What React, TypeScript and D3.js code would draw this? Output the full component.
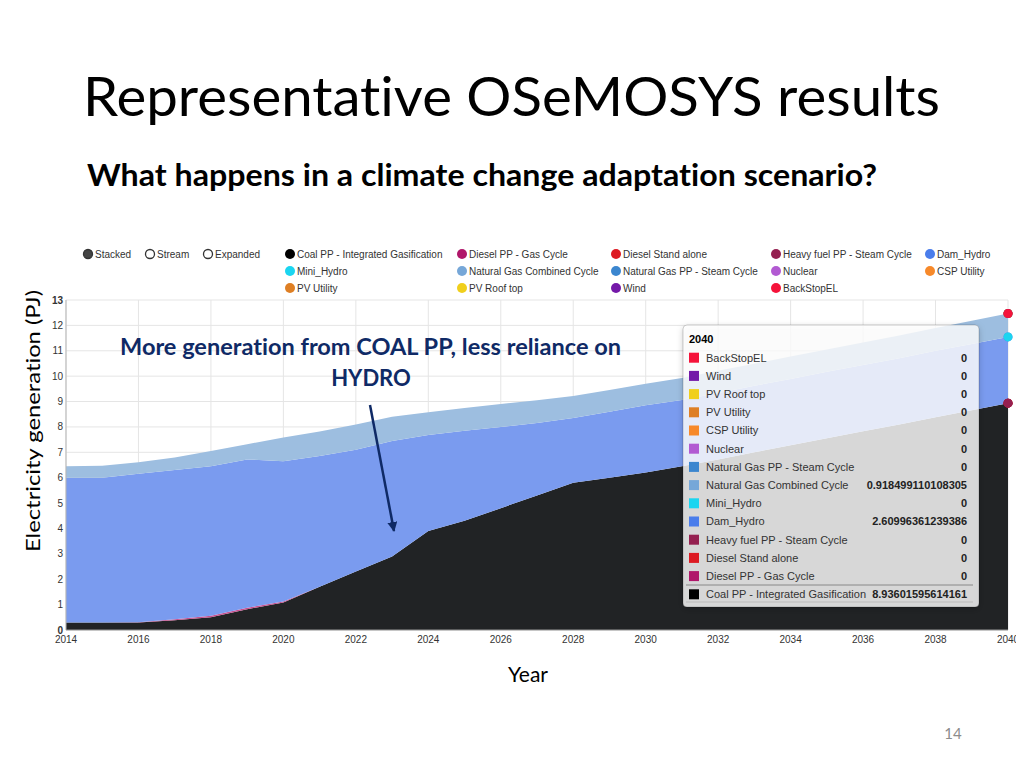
import React, { useEffect, useRef } from 'react';
import * as D3 from 'd3';

const years = [2014, 2015, 2016, 2017, 2018, 2019, 2020, 2021, 2022, 2023, 2024, 2025, 2026, 2027,
    2028, 2029, 2030, 2031, 2032, 2033, 2034, 2035, 2036, 2037, 2038, 2039, 2040];

const coal = [0.3, 0.3, 0.3, 0.38, 0.5, 0.82, 1.08, 1.7, 2.3, 2.9, 3.9, 4.3, 4.8, 5.3,
    5.8, 6.0, 6.2, 6.45, 6.72, 7.0, 7.28, 7.55, 7.83, 8.1, 8.38, 8.66, 8.93601595614161];
const dieselGas = [0, 0, 0.01, 0.04, 0.06, 0.06, 0.04, 0, 0, 0, 0, 0, 0, 0,
    0, 0, 0, 0, 0, 0, 0, 0, 0, 0, 0, 0, 0];
const damHydro = [5.7, 5.7, 5.85, 5.88, 5.89, 5.84, 5.53, 5.15, 4.8, 4.55, 3.78, 3.55, 3.2, 2.85,
    2.55, 2.6, 2.65, 2.61, 2.62, 2.62, 2.61, 2.62, 2.61, 2.61, 2.62, 2.61, 2.60996361239386];
const ngcc = [0.45, 0.47, 0.45, 0.5, 0.6, 0.6, 0.93, 0.97, 1.0, 0.95, 0.9, 0.9, 0.9, 0.9,
    0.87, 0.85, 0.85, 0.87, 0.87, 0.87, 0.88, 0.88, 0.89, 0.89, 0.9, 0.91, 0.918499110108305];
const zeroSeries = [0, 0, 0, 0, 0, 0, 0, 0, 0, 0, 0, 0, 0, 0,
    0, 0, 0, 0, 0, 0, 0, 0, 0, 0, 0, 0, 0];

// stack order, bottom to top
const seriesNames = [
    'Coal PP - Integrated Gasification', 'Diesel PP - Gas Cycle', 'Diesel Stand alone',
    'Heavy fuel PP - Steam Cycle', 'Dam_Hydro', 'Mini_Hydro', 'Natural Gas Combined Cycle',
    'Natural Gas PP - Steam Cycle', 'Nuclear', 'CSP Utility', 'PV Utility', 'PV Roof top',
    'Wind', 'BackStopEL',
];
const seriesValues = [
    coal, dieselGas, zeroSeries, zeroSeries, damHydro, zeroSeries, ngcc,
    zeroSeries, zeroSeries, zeroSeries, zeroSeries, zeroSeries, zeroSeries, zeroSeries,
];
const seriesColors = [
    '#000000', '#b0176a', '#dd1a22', '#952050', '#4a7deb', '#1ad5f0', '#76a7d8',
    '#3b86cf', '#b25ad2', '#f7892a', '#de7f24', '#f0cf1c', '#7419a8', '#f5133a',
];
const areaColors = [
    '#212325', '#c8508e', '#e0474d', '#a84a72', '#7a9bef', '#50ddf2', '#9dbee0',
    '#6ca2db', '#c583dd', '#f9a55f', '#e69f5b', '#f4db55', '#9552be', '#f84f6b',
];
const yTicks = [0, 1, 2, 3, 4, 5, 6, 7, 8, 9, 10, 11, 12, 13];
const xTicks = [2014, 2016, 2018, 2020, 2022, 2024, 2026, 2028, 2030, 2032, 2034, 2036, 2038, 2040];
const controls = ['Stacked', 'Stream', 'Expanded'];

const plot = { left: 66, right: 1008, top: 300, bottom: 630 };
const uiFont = '"Liberation Sans", Arial, sans-serif';
const slideFont = 'Lato, "Open Sans", sans-serif';

const App = () => {
    const container = useRef(null);

    useEffect(() => {
        if (!container.current) return;
        D3.select(container.current).selectAll('*').remove();

        const svg = D3.select(container.current)
            .append('svg')
            .attr('width', 1024)
            .attr('height', 768)
            .style('display', 'block')
            .style('background', '#fff')
            .style('font-variant-ligatures', 'none')
            .style('font-feature-settings', '"liga" 0, "clig" 0');

        const defs = svg.append('defs');
        defs.append('clipPath').attr('id', 'chartClip')
            .append('rect').attr('x', 0).attr('y', 0).attr('width', 1016).attr('height', 768);
        defs.append('filter').attr('id', 'tipShadow').attr('x', -0.1).attr('y', -0.1).attr('width', 1.2).attr('height', 1.2)
            .append('feDropShadow').attr('dx', 0).attr('dy', 2).attr('stdDeviation', 3).attr('flood-opacity', 0.25);
        const marker = defs.append('marker').attr('id', 'arrowHead')
            .attr('viewBox', '0 0 10 10').attr('refX', 9).attr('refY', 5)
            .attr('markerWidth', 4).attr('markerHeight', 4).attr('orient', 'auto');
        marker.append('path').attr('d', 'M0,0 L10,5 L0,10 z').attr('fill', '#0f2a66');

        // slide text
        svg.append('text')
            .attr('x', 83).attr('y', 116)
            .attr('font-family', slideFont).attr('font-size', 55).attr('fill', '#000')
            .attr('textLength', 857).attr('lengthAdjust', 'spacingAndGlyphs')
            .text('Representative OSeMOSYS results');
        svg.append('text')
            .attr('x', 87).attr('y', 186)
            .attr('font-family', slideFont).attr('font-size', 30).attr('font-weight', 'bold').attr('fill', '#000')
            .attr('textLength', 790).attr('lengthAdjust', 'spacingAndGlyphs')
            .text('What happens in a climate change adaptation scenario?');

        const ctr = svg.append('g').attr('clip-path', 'url(#chartClip)');

        const xScale = D3.scaleLinear().domain([2014, 2040]).range([plot.left, plot.right]);
        const yScale = D3.scaleLinear().domain([0, 13]).range([plot.bottom, plot.top]);

        // grid
        ctr.append('g').selectAll('line').data(yTicks).join('line')
            .attr('x1', plot.left).attr('x2', plot.right)
            .attr('y1', d => yScale(d)).attr('y2', d => yScale(d))
            .attr('stroke', '#e5e5e5').attr('stroke-width', 1);
        ctr.append('g').selectAll('line').data(xTicks).join('line')
            .attr('x1', d => xScale(d)).attr('x2', d => xScale(d))
            .attr('y1', plot.top).attr('y2', plot.bottom)
            .attr('stroke', '#e5e5e5').attr('stroke-width', 1);

        // stacked areas
        const table = years.map((yr, i) => {
            const row: any = { year: yr };
            seriesNames.forEach((name, s) => { row[name] = seriesValues[s][i]; });
            return row;
        });
        const stacked = D3.stack().keys(seriesNames)(table);
        const area = D3.area<any>()
            .x(d => xScale(d.data.year))
            .y0(d => yScale(d[0]))
            .y1(d => yScale(d[1]));
        ctr.append('g').selectAll('path').data(stacked).join('path')
            .attr('d', d => area(d as any))
            .attr('fill', (d, i) => areaColors[i]);

        // axes
        const yAxisG = ctr.append('g').attr('font-family', uiFont).attr('font-size', 10).attr('fill', '#333');
        yAxisG.selectAll('text').data(yTicks).join('text')
            .attr('x', plot.left - 3).attr('y', d => yScale(d)).attr('dy', '0.35em')
            .attr('text-anchor', 'end')
            .attr('font-weight', d => (d === 0 || d === 13 ? 'bold' : 'normal'))
            .text(d => d);
        ctr.append('line').attr('x1', plot.left).attr('x2', plot.left).attr('y1', plot.top).attr('y2', plot.bottom)
            .attr('stroke', '#b5b5b5');
        ctr.append('line').attr('x1', plot.left).attr('x2', plot.right).attr('y1', plot.bottom).attr('y2', plot.bottom)
            .attr('stroke', '#999');
        const xAxisG = ctr.append('g').attr('font-family', uiFont).attr('font-size', 10).attr('fill', '#333');
        xAxisG.selectAll('text').data(xTicks).join('text')
            .attr('x', d => xScale(d)).attr('y', plot.bottom + 13)
            .attr('text-anchor', 'middle')
            .text(d => d);

        // hover points at last year
        const last = years.length - 1;
        ctr.append('g').selectAll('circle').data(stacked).join('circle')
            .attr('cx', xScale(years[last]))
            .attr('cy', d => yScale(d[last][1]))
            .attr('r', 4.5)
            .attr('fill', (d, i) => seriesColors[i]);

        // legend
        const legend = svg.append('g').attr('font-family', uiFont).attr('font-size', 10).attr('fill', '#333');
        const ctrlX = [88, 150, 208];
        controls.forEach((c, i) => {
            legend.append('circle').attr('cx', ctrlX[i]).attr('cy', 254).attr('r', 4.5)
                .attr('fill', i === 0 ? '#444' : '#fff').attr('stroke', '#333').attr('stroke-width', 1.3);
            legend.append('text').attr('x', ctrlX[i] + 7).attr('y', 254).attr('dy', '0.35em').text(c);
        });
        const colX = [290, 462, 616, 776, 930];
        const rowY = [254, 271, 288];
        seriesNames.forEach((name, i) => {
            const cx = colX[i % 5];
            const cy = rowY[Math.floor(i / 5)];
            legend.append('circle').attr('cx', cx).attr('cy', cy).attr('r', 5).attr('fill', seriesColors[i]);
            legend.append('text').attr('x', cx + 7).attr('y', cy).attr('dy', '0.35em').text(name);
        });

        // annotation
        const note = svg.append('g').attr('font-family', slideFont).attr('font-weight', 'bold')
            .attr('font-size', 22).attr('fill', '#0f2a66').attr('text-anchor', 'middle');
        note.append('text').attr('x', 370.5).attr('y', 355)
            .attr('textLength', 501).attr('lengthAdjust', 'spacingAndGlyphs')
            .text('More generation from COAL PP, less reliance on');
        note.append('text').attr('x', 371).attr('y', 386).text('HYDRO');
        svg.append('line').attr('x1', 370).attr('y1', 405).attr('x2', 394).attr('y2', 531)
            .attr('stroke', '#0f2a66').attr('stroke-width', 2.5).attr('marker-end', 'url(#arrowHead)');

        // tooltip
        const tip = svg.append('g').attr('font-family', uiFont).attr('font-size', 11);
        tip.append('rect').attr('x', 683).attr('y', 325).attr('width', 296).attr('height', 282)
            .attr('rx', 4).attr('fill', 'rgba(255,255,255,0.8)').attr('stroke', 'rgba(0,0,0,0.18)')
            .attr('filter', 'url(#tipShadow)');
        tip.append('text').attr('x', 689).attr('y', 343).attr('font-weight', 'bold').attr('fill', '#000')
            .text(years[last]);
        const tipOrder = seriesNames.map((_, i) => i).reverse();
        tipOrder.forEach((s, r) => {
            const cy = 357.7 + r * 18.2;
            tip.append('rect').attr('x', 689).attr('y', cy - 5).attr('width', 10).attr('height', 10)
                .attr('fill', seriesColors[s]);
            tip.append('text').attr('x', 706).attr('y', cy).attr('dy', '0.35em').attr('fill', '#333')
                .text(seriesNames[s]);
            tip.append('text').attr('x', 967).attr('y', cy).attr('dy', '0.35em').attr('text-anchor', 'end')
                .attr('font-weight', 'bold').attr('fill', '#222')
                .text(String(seriesValues[s][last]));
        });
        tip.append('line').attr('x1', 686).attr('x2', 973).attr('y1', 585).attr('y2', 585).attr('stroke', '#888');
        tip.append('line').attr('x1', 686).attr('x2', 973).attr('y1', 602).attr('y2', 602).attr('stroke', '#bbb');

        // axis titles
        svg.append('text')
            .attr('transform', 'translate(40,421) rotate(-90)')
            .attr('text-anchor', 'middle')
            .attr('font-family', slideFont).attr('font-size', 20).attr('fill', '#000')
            .attr('textLength', 262).attr('lengthAdjust', 'spacingAndGlyphs')
            .text('Electricity generation (PJ)');
        svg.append('text')
            .attr('x', 528).attr('y', 682).attr('text-anchor', 'middle')
            .attr('font-family', slideFont).attr('font-size', 21).attr('fill', '#000')
            .text('Year');
        svg.append('text')
            .attr('x', 953).attr('y', 739).attr('text-anchor', 'middle')
            .attr('font-family', slideFont).attr('font-size', 15).attr('fill', '#8c8c8c')
            .text('14');
    }, [container.current]);

    return (<div ref={container} style={{ position: 'absolute', left: 0, top: 0 }} />);
};

export default App;
